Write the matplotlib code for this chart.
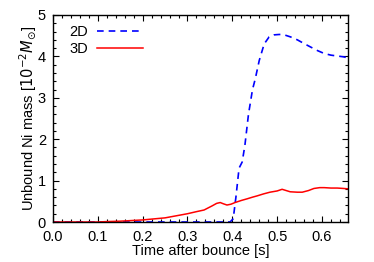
import matplotlib
matplotlib.use('Agg')
import matplotlib.pyplot as plt
from matplotlib.ticker import MultipleLocator, FormatStrFormatter

plt.rcParams['font.family'] = ['Liberation Sans', 'DejaVu Sans']
plt.rcParams['mathtext.fontset'] = 'dejavusans'

# 2D run
t_2d = [0.0, 0.1, 0.2, 0.3, 0.38, 0.395, 0.402, 0.408, 0.415, 0.422, 0.428,
        0.436, 0.445, 0.451, 0.46, 0.471, 0.482, 0.493, 0.505, 0.516, 0.53,
        0.545, 0.56, 0.574, 0.59, 0.605, 0.62, 0.634, 0.648, 0.66]
m_2d = [0.0, 0.0, 0.0, 0.0, 0.0, 0.0, 0.08, 0.6, 1.3, 1.45, 1.85,
        2.6, 3.2, 3.45, 3.9, 4.3, 4.47, 4.52, 4.53, 4.52, 4.47,
        4.4, 4.31, 4.23, 4.14, 4.07, 4.03, 4.01, 3.99, 3.96]

# 3D run
t_3d = [0.0, 0.1, 0.12, 0.15, 0.2, 0.25, 0.3, 0.32, 0.337, 0.355, 0.365,
        0.373, 0.38, 0.388, 0.397, 0.406, 0.42, 0.433, 0.445, 0.455, 0.47,
        0.484, 0.5, 0.511, 0.52, 0.529, 0.545, 0.556, 0.57, 0.582, 0.595,
        0.605, 0.62, 0.634, 0.648, 0.66]
m_3d = [0.0, 0.0, 0.01, 0.02, 0.05, 0.1, 0.2, 0.25, 0.29, 0.39, 0.45,
        0.47, 0.44, 0.41, 0.43, 0.47, 0.52, 0.56, 0.6, 0.63, 0.68,
        0.72, 0.75, 0.79, 0.76, 0.73, 0.72, 0.72, 0.76, 0.81, 0.83,
        0.83, 0.82, 0.82, 0.81, 0.80]

fig = plt.figure(figsize=(3.74, 2.62), dpi=100)
ax = fig.add_axes([53 / 374, 40 / 262, 295 / 374, 207 / 262])

ax.plot(t_2d, m_2d, color='#0000ff', ls=(0, (4, 3)), lw=1.2, label='2D')
ax.plot(t_3d, m_3d, color='#ff0000', ls='-', lw=1.1, label='3D')

ax.set_xlim(0, 0.658)
ax.set_ylim(0, 5)
ax.xaxis.set_major_locator(MultipleLocator(0.1))
ax.xaxis.set_minor_locator(MultipleLocator(0.02))
ax.yaxis.set_major_locator(MultipleLocator(1))
ax.yaxis.set_minor_locator(MultipleLocator(0.2))
ax.xaxis.set_major_formatter(FormatStrFormatter('%.1f'))
ax.tick_params(which='both', direction='in', top=True, right=True, labelsize=10.5, width=0.8)
ax.tick_params(which='major', length=4)
ax.tick_params(which='minor', length=2)
ax.tick_params(axis='x', pad=6)
ax.tick_params(axis='y', pad=5)
for s in ax.spines.values():
    s.set_linewidth(1.0)

ax.set_xlabel('Time after bounce [s]', fontsize=10.5)
ax.set_ylabel(r'Unbound Ni mass [$10^{-2}M_{\odot}$]', fontsize=10.5)
ax.xaxis.set_label_coords(0.5, -0.108)
ax.yaxis.set_label_coords(-0.047, 0.5)

ax.legend(loc='upper left', frameon=False, fontsize=10.5, markerfirst=False,
          handlelength=3.2, handletextpad=0.6, borderaxespad=0.3,
          labelspacing=0.2, bbox_to_anchor=(0.02, 1.0))

fig.savefig('out.png', dpi=100)
